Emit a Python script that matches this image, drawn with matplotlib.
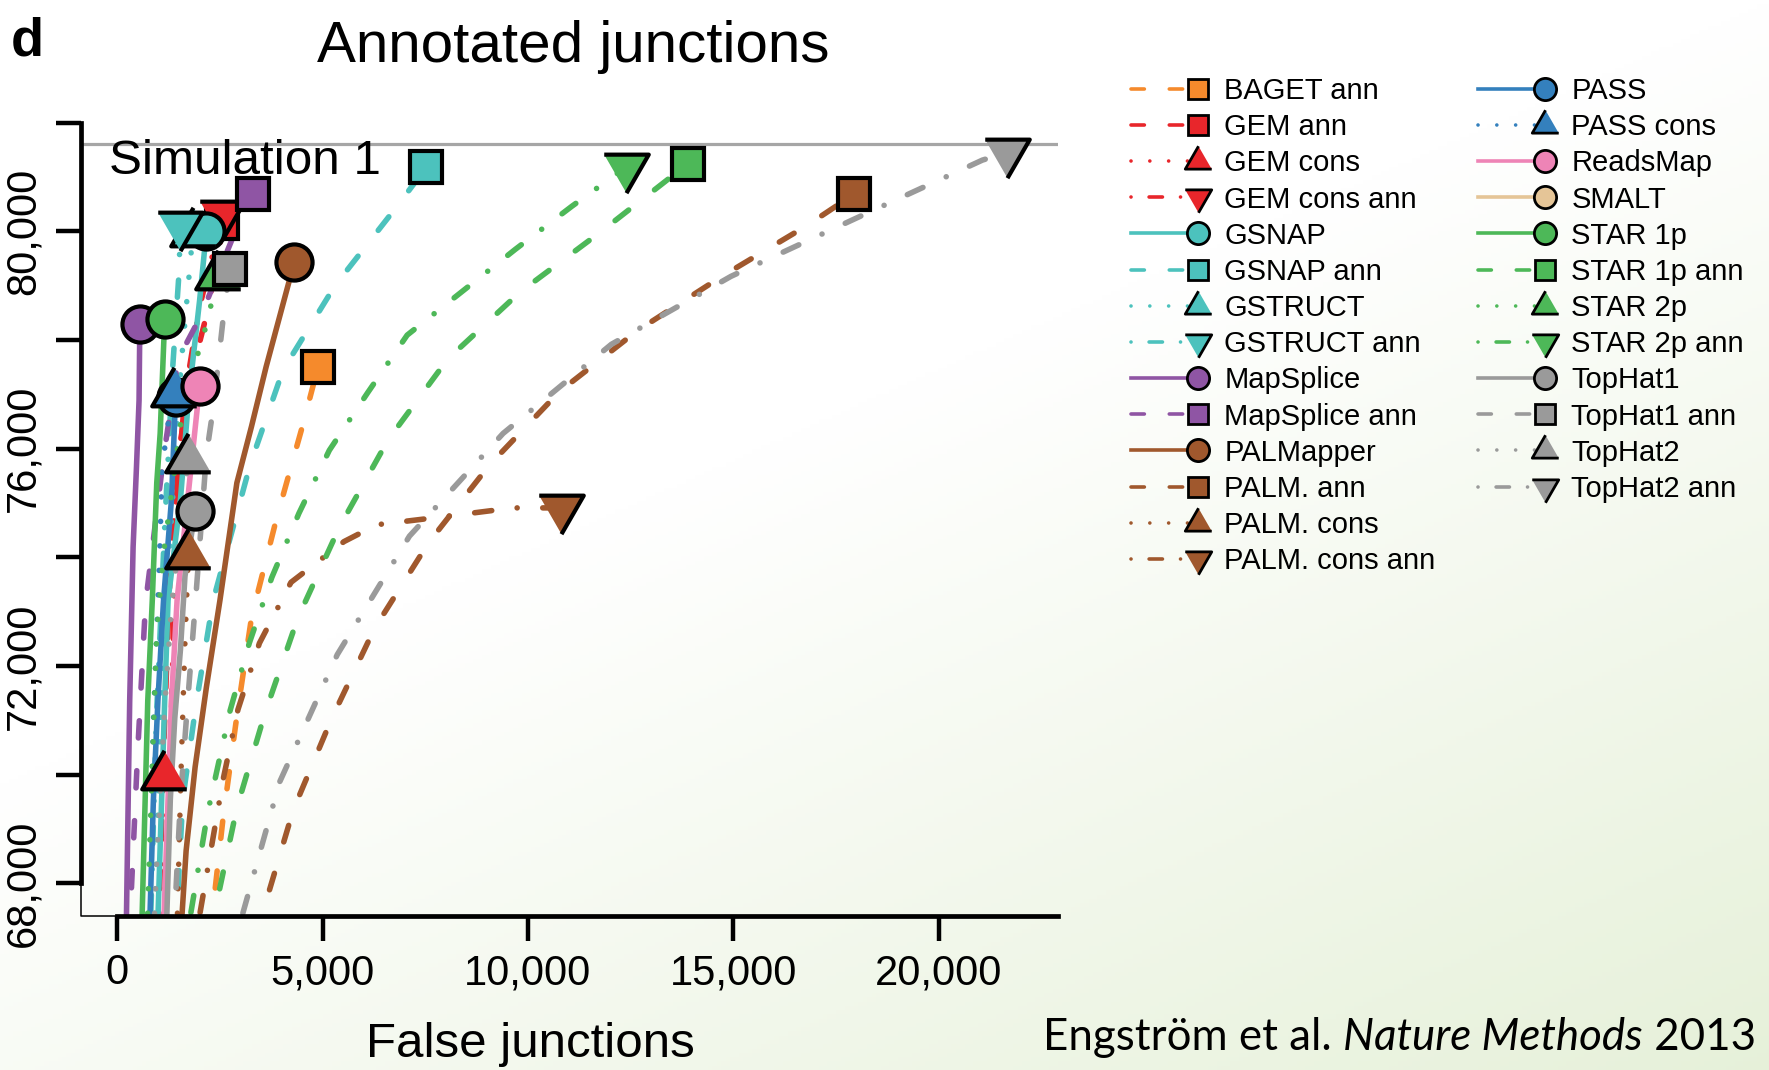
import numpy as np
import matplotlib
matplotlib.use("Agg")
import matplotlib.pyplot as plt
from matplotlib.lines import Line2D
from matplotlib.legend_handler import HandlerLine2D

plt.rcParams['font.family'] = ['Liberation Sans', 'DejaVu Sans']

# ---- data: false junctions (x) vs annotated junctions found (y) ----
baget_ann_x = [2250, 2580, 2910, 3270, 3870, 4200, 4530, 4890]
baget_ann_y = [67000, 69230, 71070, 72900, 74690, 75580, 76470, 77510]
gem_ann_x = [1000, 1130, 1300, 1550, 1920, 2120, 2470, 2560]
gem_ann_y = [67000, 70500, 74000, 76200, 77700, 78300, 79560, 80150]
gem_cons_x = [1000, 1060, 1126]
gem_cons_y = [67000, 68500, 69970]
gem_cons_ann_x = [1150, 1280, 1380, 1430, 1650, 2000, 2300, 2555]
gem_cons_ann_y = [67000, 70000, 73000, 75000, 77000, 78600, 79500, 80310]
gsnap_x = [975, 1154, 1236, 1538, 1731, 2005, 2170]
gsnap_y = [67000, 71360, 73210, 75060, 76890, 78730, 80000]
gsnap_ann_x = [1420, 1593, 1923, 2335, 3241, 4038, 5302, 6813, 7527]
gsnap_ann_y = [67000, 69540, 71320, 73210, 75720, 77450, 79000, 80460, 81180]
gstruct_x = [900, 1050, 1300, 1550, 1750, 1840]
gstruct_y = [67000, 71000, 74500, 77500, 79200, 79960]
gstruct_ann_x = [800, 950, 1150, 1350, 1500, 1538]
gstruct_ann_y = [67000, 71000, 74500, 77500, 79200, 80120]
mapsplice_x = [215, 302, 385, 467, 530, 549]
mapsplice_y = [67000, 71360, 74190, 75660, 76890, 78300]
mapsplice_ann_x = [290, 494, 687, 1126, 1483, 2033, 2967, 3296]
mapsplice_ann_y = [67000, 70390, 73150, 75850, 77650, 78440, 80170, 80680]
palmapper_x = [1540, 1676, 1895, 2170, 2500, 2912, 3269, 3626, 4313]
palmapper_y = [67000, 68600, 70140, 71610, 73210, 75370, 76410, 77510, 79440]
palm_ann_x = [3360, 4285, 5219, 6263, 7582, 9065, 10768, 12664, 14722, 16784, 17938]
palm_ann_y = [67000, 69350, 71030, 72690, 74270, 75700, 77050, 78170, 79170, 80100, 80680]
palm_cons_x = [1450, 1550, 1650, 1731]
palm_cons_y = [67000, 70000, 72500, 74040]
palm_cons_ann_x = [1910, 2582, 2939, 3461, 4230, 5521, 6318, 7966, 9642, 10796]
palm_cons_ann_y = [67000, 69930, 71200, 72420, 73540, 74290, 74600, 74750, 74910, 74910]
pass_x = [780, 879, 989, 1126, 1319, 1420]
pass_y = [67000, 69540, 71360, 73210, 75060, 76950]
pass_cons_x = [760, 880, 1030, 1090, 1200, 1374]
pass_cons_y = [67000, 71000, 74000, 75600, 76300, 77030]
readsmap_x = [1120, 1319, 1456, 1593, 1840, 2005]
readsmap_y = [67000, 71360, 73210, 74190, 75970, 77160]
smalt_x = [1800, 2600, 3400]
smalt_y = [60000, 63500, 66200]
star1p_x = [590, 742, 852, 961, 1044, 1154]
star1p_y = [67000, 71360, 73210, 75370, 76280, 78380]
star1p_ann_x = [2240, 2912, 3599, 4395, 5412, 6593, 8049, 9807, 11757, 13900]
star1p_ann_y = [67000, 69390, 71140, 72880, 74560, 76160, 77650, 78880, 79980, 81245]
star2p_x = [720, 797, 961, 1126, 1291, 1538, 1813, 2170, 2445]
star2p_y = [67000, 68910, 72630, 74080, 75000, 76430, 77360, 78280, 79170]
star2p_ann_x = [1690, 2198, 2747, 3214, 3763, 4423, 5164, 6098, 7060, 8378, 9697, 11070, 12389]
star2p_ann_y = [67000, 69290, 71180, 72420, 73630, 74810, 75970, 77030, 78090, 78880, 79670, 80460, 81180]
tophat1_x = [1190, 1291, 1401, 1538, 1648, 1895]
tophat1_y = [67000, 69540, 71050, 72300, 73650, 74850]
tophat1_ann_x = [1370, 1538, 1703, 1895, 2170, 2335, 2472, 2610, 2747]
tophat1_ann_y = [67000, 69540, 71240, 73090, 75890, 76740, 77670, 78610, 79310]
tophat2_x = [880, 989, 1154, 1319, 1538, 1731]
tophat2_y = [67000, 68830, 71220, 73090, 74540, 75810]
tophat2_ann_x = [2890, 3956, 5357, 7115, 9395, 12032, 14944, 18020, 21069, 21674]
tophat2_ann_y = [67000, 69870, 72210, 74390, 76280, 77920, 79170, 80250, 81310, 81450]

simulation_total = 81600

x_ticks = [0, 5000, 10000, 15000, 20000]
y_ticks = [68000, 70000, 72000, 74000, 76000, 78000, 80000, 82000]
y_labelled = [68000, 72000, 76000, 80000]

# colours
orange = '#F58A2C'
red = '#E8262B'
teal = '#4CC2BD'
purple = '#8F55A4'
brown = '#A0582D'
blue = '#3480BD'
pink = '#EE84B6'
tan = '#E5C597'
green = '#4DB858'
grey = '#9A9A9A'

# line styles (in units of linewidth), round caps like R
solid = '-'
dashed = (0, (3.1, 5.9))
dotted = (0, (0.01, 4.4))
dotdash = (0, (0.01, 4.6, 3.1, 4.6))
leg_dashed = (0, (3.7, 6.9))
leg_dotted = (0, (0.01, 5.2))
leg_dotdash = (0, (0.01, 5.0, 3.7, 5.0))
leg_style = {solid: solid, dashed: leg_dashed, dotted: leg_dotted,
             dotdash: leg_dotdash}

tri_up = [(0, 1.1547), (-1, -0.5774), (1, -0.5774)]
tri_down = [(0, -1.1547), (1, 0.5774), (-1, 0.5774)]

series = [
    ('BAGET ann', baget_ann_x, baget_ann_y, orange, dashed, 's'),
    ('GEM ann', gem_ann_x, gem_ann_y, red, dashed, 's'),
    ('GEM cons', gem_cons_x, gem_cons_y, red, dotted, 'up'),
    ('GEM cons ann', gem_cons_ann_x, gem_cons_ann_y, red, dotdash, 'down'),
    ('GSNAP', gsnap_x, gsnap_y, teal, solid, 'o'),
    ('GSNAP ann', gsnap_ann_x, gsnap_ann_y, teal, dashed, 's'),
    ('GSTRUCT', gstruct_x, gstruct_y, teal, dotted, 'up'),
    ('GSTRUCT ann', gstruct_ann_x, gstruct_ann_y, teal, dotdash, 'down'),
    ('MapSplice', mapsplice_x, mapsplice_y, purple, solid, 'o'),
    ('MapSplice ann', mapsplice_ann_x, mapsplice_ann_y, purple, dashed, 's'),
    ('PALMapper', palmapper_x, palmapper_y, brown, solid, 'o'),
    ('PALM. ann', palm_ann_x, palm_ann_y, brown, dashed, 's'),
    ('PALM. cons', palm_cons_x, palm_cons_y, brown, dotted, 'up'),
    ('PALM. cons ann', palm_cons_ann_x, palm_cons_ann_y, brown, dotdash, 'down'),
    ('PASS', pass_x, pass_y, blue, solid, 'o'),
    ('PASS cons', pass_cons_x, pass_cons_y, blue, dotted, 'up'),
    ('ReadsMap', readsmap_x, readsmap_y, pink, solid, 'o'),
    ('SMALT', smalt_x, smalt_y, tan, solid, 'o'),
    ('STAR 1p', star1p_x, star1p_y, green, solid, 'o'),
    ('STAR 1p ann', star1p_ann_x, star1p_ann_y, green, dashed, 's'),
    ('STAR 2p', star2p_x, star2p_y, green, dotted, 'up'),
    ('STAR 2p ann', star2p_ann_x, star2p_ann_y, green, dotdash, 'down'),
    ('TopHat1', tophat1_x, tophat1_y, grey, solid, 'o'),
    ('TopHat1 ann', tophat1_ann_x, tophat1_ann_y, grey, dashed, 's'),
    ('TopHat2', tophat2_x, tophat2_y, grey, dotted, 'up'),
    ('TopHat2 ann', tophat2_ann_x, tophat2_ann_y, grey, dotdash, 'down'),
]

marker_shape = {'o': 'o', 's': 's', 'up': tri_up, 'down': tri_down}
plot_ms = {'o': 26, 's': 22.5, 'up': 37, 'down': 37}
leg_ms = {'o': 16, 's': 14, 'up': 22, 'down': 22}

W, H = 1769, 1070
fig = plt.figure(figsize=(W / 100, H / 100), dpi=100)

# faint slide background (white -> pale green towards bottom right)
bg = fig.add_axes([0, 0, 1, 1], zorder=-10)
gx, gy = np.meshgrid(np.linspace(0, 1, 400), np.linspace(0, 1, 250))
t = np.clip(0.55 * gx + 0.75 * gy - 0.55, 0, 1)[..., None]
c_end = np.array([222, 236, 205]) / 255
grad = (1 - t) * np.ones(3) + t * c_end
bg.imshow(grad, extent=[0, 1, 0, 1], aspect='auto', origin='upper')
bg.axis('off')

ax = fig.add_axes([81 / W, 1 - 916 / H, (1058 - 81) / W, (916 - 122.6) / H])
ax.patch.set_alpha(0)
xmin, xmax = -884, 22910
ax.set_xlim(xmin, xmax)
ax.set_ylim(67400, 82000)

ax.axhline(simulation_total, color='#A6A6A6', lw=2.3, zorder=1)
ax.text(-200, 81050, 'Simulation 1', fontsize=35.6, va='baseline', ha='left')

for name, x, y, c, ls, m in series:
    ax.plot(x, y, color=c, ls=ls, lw=4.0, dash_capstyle='round',
            solid_capstyle='round', zorder=2)
for i, (name, x, y, c, ls, m) in enumerate(series):
    ax.plot(x[-1:], y[-1:], ls='none', marker=marker_shape[m], ms=plot_ms[m],
            mfc=c, mec='black', mew=3.0, zorder=3 + i * 0.01)

# axes in R style: thick axis lines, thin L box
for s in ['top', 'right']:
    ax.spines[s].set_visible(False)
ax.spines['left'].set_bounds(68000, 82000)
ax.spines['bottom'].set_bounds(0, xmax)
ax.spines['left'].set_linewidth(3.4)
ax.spines['bottom'].set_linewidth(3.4)
ax.plot([0, 0, 1], [1, 0, 0], transform=ax.transAxes, color='black', lw=1.1,
        clip_on=False, zorder=5)

ax.set_xticks(x_ticks)
ax.set_xticklabels([f'{v:,}' for v in x_ticks])
ax.set_yticks(y_ticks)
ax.set_yticklabels([f'{v:,}' if v in y_labelled else '' for v in y_ticks],
                   rotation=90, va='center')
ax.tick_params(direction='out', length=18, width=3.2, labelsize=30, pad=9)

fig.text(530 / W, 1 - 1057 / H, 'False junctions', ha='center', va='baseline',
         fontsize=35.5)
fig.text(573 / W, 1 - 62 / H, 'Annotated junctions', ha='center', va='baseline',
         fontsize=42)
fig.text(11 / W, 1 - 56 / H, 'd', fontsize=39, fontweight='bold', va='baseline')


# legend with the marker at the right end of the line sample, as R does
class EndMarker(HandlerLine2D):
    def create_artists(self, legend, orig_handle, xdescent, ydescent, width,
                       height, fontsize, trans):
        xd = np.array([-xdescent, -xdescent + width])
        yd = np.full_like(xd, (height - ydescent) / 2)
        line = Line2D(xd, yd)
        self.update_prop(line, orig_handle, legend)
        line.set_markevery([1])
        line.set_transform(trans)
        return [line]


handles = []
for name, x, y, c, ls, m in series:
    handles.append(Line2D([], [], color=c, ls=leg_style[ls], lw=2.6,
                          dash_capstyle='round', marker=marker_shape[m],
                          ms=leg_ms[m], mfc=c, mec='black', mew=2.0))
labels = [s[0] for s in series]
leg_kw = dict(loc='upper left', frameon=False, fontsize=21, handlelength=2.28,
              handletextpad=0.92, labelspacing=0.28, borderpad=0,
              borderaxespad=0, handler_map={Line2D: EndMarker()})
fig.legend(handles[:14], labels[:14],
           bbox_to_anchor=(1131 / W, 1 - 77 / H), **leg_kw)
fig.legend(handles[14:], labels[14:],
           bbox_to_anchor=(1478 / W, 1 - 77 / H), **leg_kw)

# citation
renderer = fig.canvas.get_renderer()
cx = 1043
cite_parts = [('Engström et al. ', 'normal'), ('Nature Methods', 'italic'),
              (' 2013', 'normal')]
for txt, style in cite_parts:
    tt = fig.text(cx / W, 1 - 1050 / H, txt, fontsize=31.6,
                  family=['Lato', 'DejaVu Sans'], style=style,
                  va='baseline', ha='left')
    cx = tt.get_window_extent(renderer).x1

fig.savefig('out.png', dpi=100)
